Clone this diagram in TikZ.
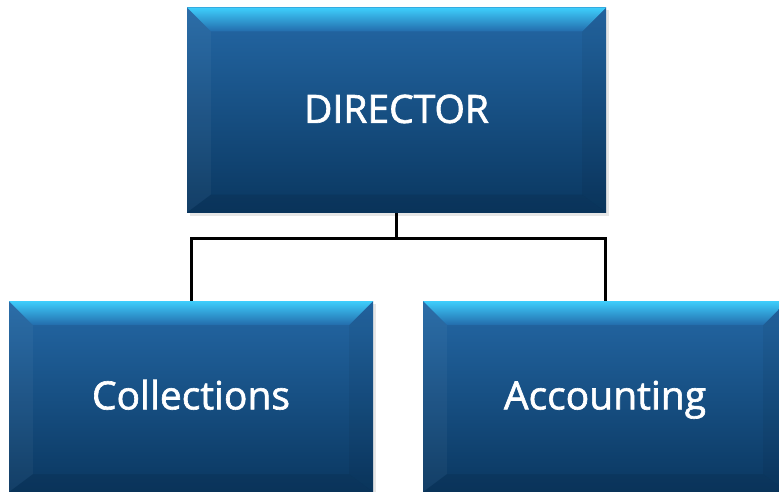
\documentclass[tikz,border=0pt]{standalone}
\usepackage{fontspec}
\setmainfont{Open Sans}
\newfontfamily\boxfont{Open Sans}[FakeBold=1.6]
\usetikzlibrary{shadows}
\definecolor{bevtop}{HTML}{3ECEFC}
\definecolor{bevmid}{HTML}{2A90D6}
\definecolor{bevlow}{HTML}{236CAC}
\definecolor{bodytop}{HTML}{2468A6}
\definecolor{bodymid}{HTML}{1C558B}
\definecolor{bodybot}{HTML}{0A3760}
\tikzset{
  orgbox/.style={rectangle, inner sep=0pt,
    top color=bodytop, middle color=bodymid, bottom color=bodybot,
    drop shadow={opacity=0.2, shadow xshift=2.5pt, shadow yshift=-3pt},
    text=white, font=\boxfont\fontsize{39}{42}\selectfont,
    text height=37.8pt, text depth=10pt,
    path picture={
      \fill[white, opacity=0.04]
        (path picture bounding box.north west) --
        ([shift={(24pt,-24pt)}]path picture bounding box.north west) --
        ([shift={(24pt,18pt)}]path picture bounding box.south west) --
        (path picture bounding box.south west) -- cycle;
      \fill[black, opacity=0.05]
        (path picture bounding box.north east) --
        ([shift={(-24pt,-24pt)}]path picture bounding box.north east) --
        ([shift={(-24pt,18pt)}]path picture bounding box.south east) --
        (path picture bounding box.south east) -- cycle;
      \fill[black, opacity=0.07]
        (path picture bounding box.south west) --
        ([shift={(24pt,18pt)}]path picture bounding box.south west) --
        ([shift={(-24pt,18pt)}]path picture bounding box.south east) --
        (path picture bounding box.south east) -- cycle;
      \shade[top color=bevtop, middle color=bevmid, bottom color=bevlow]
        (path picture bounding box.north west) --
        (path picture bounding box.north east) --
        ([shift={(-24pt,-24pt)}]path picture bounding box.north east) --
        ([shift={(24pt,-24pt)}]path picture bounding box.north west) -- cycle;
    }},
  link/.style={line width=3pt, black}
}
\begin{document}
\begin{tikzpicture}[x=1pt, y=-1pt]
  \useasboundingbox (0,0) rectangle (779,492);
  \node[orgbox, minimum width=419pt, minimum height=205pt] (dir) at (396.5,110) {\raisebox{1pt}{DIRECTOR}};
  \node[orgbox, minimum width=364pt, minimum height=191pt] (coll) at (191,396.5) {\raisebox{1pt}{Collections}};
  \node[orgbox, minimum width=364pt, minimum height=191pt] (acc) at (605,396.5) {\raisebox{1pt}{Accounting}};
  \coordinate (junc) at (396.5,238);
  \draw[link] (dir.south) -- (junc);
  \draw[link] (junc) -| (coll.north);
  \draw[link] (junc) -| (acc.north);
\end{tikzpicture}
\end{document}
